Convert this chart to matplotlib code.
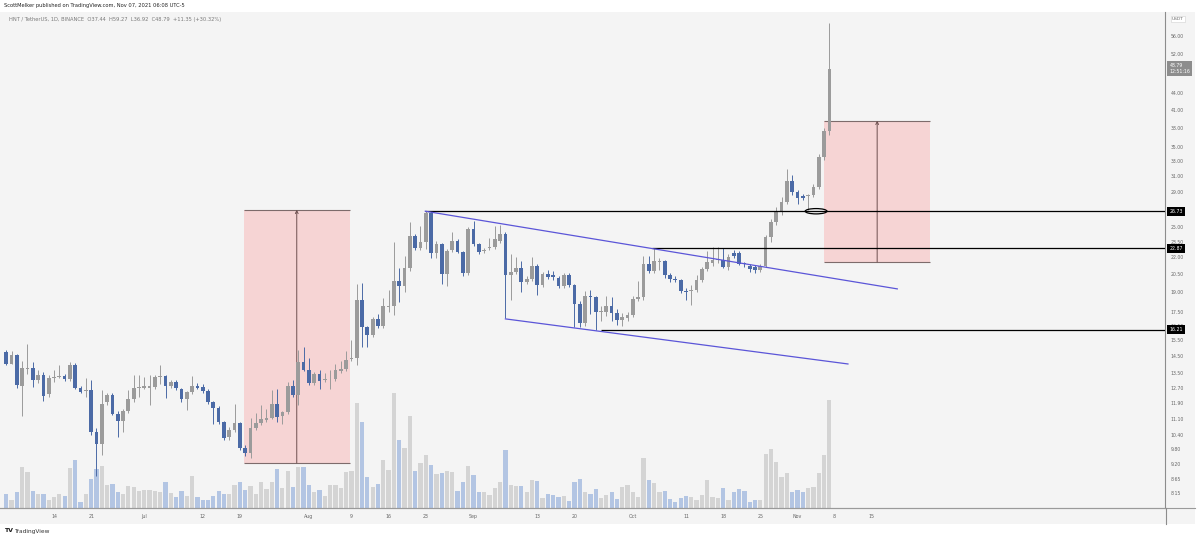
import numpy as np
import pandas as pd
import matplotlib
matplotlib.use("Agg")
import matplotlib.pyplot as plt
import matplotlib.dates as mdates
import matplotlib.transforms as mtrans
from matplotlib.patches import Rectangle, Ellipse
from matplotlib.ticker import NullLocator

# HNT / USDT daily candles, 2021-06-05 .. 2021-11-07
first_day = "2021-06-05"
opens = [14.76, 14.05, 14.60, 12.78, 13.74, 13.79, 13.10, 13.41, 12.34, 13.23,
         13.28, 13.32, 13.14, 13.98, 12.70, 12.50, 12.56, 10.53, 10.03, 11.95,
         12.30, 11.35, 11.03, 11.49, 12.12, 12.67, 12.70, 12.70, 12.74, 13.28,
         13.32, 12.78, 12.98, 12.61, 12.08, 12.44, 12.78, 12.74, 12.52, 11.95,
         11.66, 10.98, 10.31, 10.64, 10.93, 9.86, 9.62, 10.71, 10.93, 11.06,
         11.18, 11.87, 11.27, 11.44, 12.78, 12.30, 14.13, 13.70, 12.95, 13.43,
         13.10, 13.14, 13.14, 13.62, 13.76, 14.30, 14.41, 18.36, 16.37, 15.86,
         16.95, 16.46, 17.88, 17.90, 19.90, 19.50, 21.04, 24.12, 22.90, 23.43,
         26.50, 22.45, 23.24, 20.50, 22.68, 23.56, 22.51, 20.56, 24.76, 23.27,
         22.60, 22.90, 22.94, 23.60, 24.30, 20.41, 20.70, 21.04, 19.84, 20.06,
         21.25, 19.55, 20.50, 20.41, 20.20, 19.50, 20.41, 19.55, 18.10, 16.68,
         18.70, 18.60, 17.47, 17.47, 17.95, 17.43, 16.88, 17.00, 17.25, 18.46,
         18.60, 21.43, 20.79, 21.57, 21.62, 20.41, 20.10, 19.98, 19.10, 19.10,
         19.20, 19.98, 20.96, 21.50, 21.75, 21.74, 21.10, 22.40, 22.40, 21.47,
         21.25, 21.15, 20.86, 21.25, 23.97, 25.56, 26.70, 27.82, 30.39, 29.00,
         28.50, 28.50, 28.65, 29.66, 33.56, 37.44]
highs = [14.90, 14.81, 14.66, 14.20, 15.25, 14.16, 13.66, 13.55, 13.40, 13.70,
         13.96, 13.45, 14.16, 14.10, 12.80, 13.23, 13.10, 10.70, 12.56, 12.42,
         12.40, 11.50, 11.60, 12.56, 13.38, 13.38, 13.27, 13.38, 13.40, 13.96,
         13.40, 13.10, 13.10, 12.70, 12.50, 13.32, 12.95, 12.90, 12.60, 12.00,
         11.75, 11.05, 10.75, 11.84, 11.00, 9.95, 11.16, 11.40, 11.79, 11.60,
         12.56, 12.65, 11.50, 13.00, 13.10, 14.87, 15.10, 14.40, 13.55, 13.70,
         13.50, 13.65, 14.00, 14.20, 14.83, 15.55, 19.70, 19.71, 16.50, 17.10,
         17.30, 18.50, 19.20, 23.50, 21.00, 22.10, 25.50, 24.30, 25.10, 26.73,
         26.73, 23.60, 23.40, 22.80, 24.50, 23.80, 22.60, 25.00, 25.60, 23.40,
         22.90, 23.90, 25.10, 25.20, 24.50, 22.30, 22.00, 21.70, 20.30, 22.00,
         21.40, 20.70, 20.90, 20.80, 20.30, 20.60, 20.60, 19.70, 18.30, 19.10,
         19.20, 18.70, 17.90, 18.70, 18.60, 17.70, 17.40, 17.50, 18.70, 19.90,
         22.10, 22.10, 22.87, 21.90, 21.80, 20.60, 20.30, 20.10, 19.30, 19.60,
         20.40, 21.10, 22.60, 23.00, 23.00, 22.90, 22.30, 22.65, 22.60, 21.60,
         21.40, 21.30, 21.40, 24.20, 25.90, 27.20, 28.40, 31.90, 31.20, 29.20,
         28.70, 28.80, 30.00, 34.00, 38.00, 59.27]
lows = [13.95, 14.00, 12.70, 11.25, 13.47, 12.74, 12.93, 12.00, 12.20, 13.00,
        13.20, 13.05, 13.05, 12.60, 12.40, 12.20, 10.39, 8.73, 9.55, 11.80,
        11.30, 10.31, 10.54, 11.40, 11.95, 12.22, 12.60, 11.79, 12.60, 12.90,
        12.13, 12.70, 12.55, 11.95, 11.54, 12.35, 12.60, 12.40, 11.85, 10.90,
        10.90, 10.20, 10.20, 10.55, 9.75, 9.50, 9.43, 10.60, 10.85, 11.00,
        11.10, 11.00, 10.90, 11.35, 12.20, 11.79, 13.60, 12.85, 12.85, 12.65,
        13.00, 12.65, 13.05, 13.50, 13.60, 14.20, 13.96, 15.08, 15.08, 15.70,
        16.30, 16.30, 17.50, 17.25, 18.20, 19.00, 20.80, 22.70, 22.70, 22.80,
        21.90, 21.90, 19.70, 19.50, 22.50, 22.40, 20.30, 20.40, 23.10, 22.30,
        22.40, 22.70, 22.80, 23.40, 17.00, 18.40, 20.50, 19.00, 19.70, 19.90,
        18.80, 19.40, 20.10, 20.00, 19.35, 19.30, 19.40, 16.40, 16.40, 16.45,
        17.30, 16.18, 16.85, 17.20, 16.85, 16.55, 16.50, 16.80, 17.10, 18.30,
        18.40, 20.60, 20.60, 20.90, 20.20, 19.80, 19.80, 18.90, 18.40, 18.00,
        19.00, 19.80, 20.80, 21.20, 21.50, 21.00, 20.90, 21.90, 21.30, 21.10,
        20.70, 20.60, 20.70, 21.10, 23.50, 25.20, 26.30, 27.50, 28.60, 27.50,
        28.00, 26.86, 28.40, 29.40, 33.20, 36.92]
closes = [14.05, 14.55, 12.83, 13.79, 13.82, 13.10, 13.41, 12.25, 13.23, 13.28,
          13.36, 13.14, 13.98, 12.70, 12.49, 12.54, 10.51, 10.03, 11.87, 12.30,
          11.38, 11.03, 11.49, 12.09, 12.70, 12.74, 12.79, 12.77, 13.28, 13.32,
          12.78, 12.98, 12.66, 12.08, 12.44, 12.78, 12.70, 12.52, 11.95, 11.66,
          10.98, 10.28, 10.64, 10.93, 9.86, 9.65, 10.72, 10.93, 11.10, 11.18,
          11.87, 11.24, 11.44, 12.78, 12.30, 14.13, 13.70, 12.95, 13.43, 13.06,
          13.17, 13.17, 13.66, 13.76, 14.25, 14.36, 18.36, 16.37, 15.86, 16.95,
          16.46, 17.90, 17.95, 19.90, 19.50, 21.04, 24.12, 22.90, 23.43, 26.50,
          22.45, 23.24, 20.50, 22.60, 23.56, 22.51, 20.56, 24.76, 23.27, 22.51,
          22.67, 23.00, 23.77, 24.30, 20.41, 20.70, 21.04, 19.84, 20.06, 21.25,
          19.55, 20.50, 20.27, 20.21, 19.50, 20.41, 19.55, 18.10, 16.68, 18.66,
          18.60, 17.47, 17.55, 17.95, 17.43, 16.88, 17.07, 17.25, 18.46, 18.60,
          21.43, 20.79, 21.63, 21.62, 20.41, 20.04, 19.98, 19.05, 18.98, 19.20,
          19.98, 20.96, 21.60, 21.80, 21.80, 21.10, 22.05, 22.10, 21.43, 21.35,
          20.95, 20.86, 21.25, 23.97, 25.56, 26.73, 27.82, 30.39, 29.00, 28.23,
          28.23, 28.65, 29.66, 33.56, 37.44, 48.79]
volumes = [15, 8.3, 16.7, 44, 39, 18.3, 15, 15, 8.3, 11.7,
           15, 13.3, 42.3, 51, 6.7, 15, 31, 41.7, 45, 24.3,
           26, 17, 15, 23.3, 22.7, 17.7, 19, 19, 17.7, 17,
           27.7, 15.7, 11.7, 17.7, 12.3, 34, 11.7, 9, 9, 13.3,
           18.3, 15, 15, 25, 28.3, 19.7, 24, 15, 27.7, 20,
           27.7, 41.7, 21, 40, 22.3, 44.3, 44.3, 25, 17, 19.3,
           13.3, 24.3, 25, 21.7, 38.3, 39.3, 112.7, 91.7, 33.3, 22.7,
           25.3, 51, 41, 123.3, 72.7, 63.7, 98.3, 40, 47.7, 57,
           45.7, 36, 37, 39.3, 38.3, 17.7, 27.7, 45.3, 35.7, 17,
           16.7, 14.3, 21, 28.3, 61.7, 25, 23.3, 24, 17, 30.3,
           28.7, 11, 15, 14.3, 11.7, 12.7, 7.7, 27.7, 30.7, 17,
           15.3, 20.3, 11, 14.3, 16.7, 9.3, 22.7, 25, 17, 11.7,
           53, 30, 26.7, 16.7, 18.7, 10, 6.7, 10.3, 13.3, 12,
           8.3, 13.7, 30.3, 11.7, 11, 21.7, 8.3, 16.7, 20, 18.3,
           6.7, 8.7, 8.7, 57.7, 63.3, 49.3, 33.3, 37.3, 16.7, 19.3,
           16.7, 21, 22.7, 37.7, 57, 115.3]

price_ticks = [56.00, 52.00, 44.00, 41.00, 38.00, 35.00, 33.00, 31.00, 29.00,
               25.00, 23.50, 22.00, 20.50, 19.00, 17.50, 16.50, 15.50, 14.50,
               13.50, 12.70, 11.90, 11.10, 10.40, 9.80, 9.20, 8.65, 8.15]
time_ticks = ["2021-06-14", "2021-06-21", "2021-07-01", "2021-07-12", "2021-07-19",
              "2021-08-01", "2021-08-09", "2021-08-16", "2021-08-23", "2021-09-01",
              "2021-09-13", "2021-09-20", "2021-10-01", "2021-10-11", "2021-10-18",
              "2021-10-25", "2021-11-01", "2021-11-08", "2021-11-15"]
time_labels = ["14", "21", "Jul", "12", "19", "Aug", "9", "16", "23", "Sep",
               "13", "20", "Oct", "11", "18", "25", "Nov", "8", "15"]

# drawings
level_prices = [26.73, 22.87, 16.21]
level_starts = ["2021-08-22 22:00", "2021-10-04 14:00", "2021-09-24 22:00"]
upper_trend = (["2021-08-22 22:00", "2021-11-19 19:00"], [26.73, 19.26])
lower_trend = (["2021-09-07 00:00", "2021-11-10 12:00"], [16.97, 14.03])
range_boxes = [  # left, right, arrow x, low, high
    ("2021-07-19 18:40", "2021-08-08 17:45", "2021-07-29 17:00", 9.24, 26.9),
    ("2021-11-05 21:30", "2021-11-26 00:00", "2021-11-16 00:00", 21.57, 39.17),
]
ellipse_at = ("2021-11-04 12:00", 26.73)
last_price = 48.79

W, H = 1200, 539
def fx(px):
    return px / W
def fy(py):
    return 1 - py / H

dates = pd.date_range(first_day, periods=len(closes), freq="D")
x = mdates.date2num(dates)
o = np.array(opens); c = np.array(closes)
up = c >= o
body_col = np.where(up, "#9b9b9b", "#4b6aa6")
vol_col = np.where(up, "#d4d4d4", "#b3c5e3")

fig = plt.figure(figsize=(12, 5.39), dpi=100, facecolor="white")
bg = "#f4f4f4"
fig.patches.append(Rectangle((0, fy(524)), fx(1195), fy(11.5) - fy(524),
                             transform=fig.transFigure, fc=bg, ec="none", zorder=-5))

pos = [0, fy(508), fx(1165), fy(12) - fy(508)]
vax = fig.add_axes(pos)
ax = fig.add_axes(pos, sharex=vax)
vax.patch.set_visible(False)
ax.patch.set_visible(False)
vax.set_axis_off()

d0 = mdates.date2num(pd.Timestamp("2021-06-14"))
ax.set_xlim(d0 - 10.17, d0 + 209.2)

# volume
vax.bar(x, volumes, width=0.8, color=vol_col, linewidth=0)
vax.set_ylim(0, max(volumes) * 4.3)

# price
ax.set_yscale("log")
ax.set_ylim(7.64, 61.96)

for left, right, arrow_x, lo, hi in range_boxes:
    l = mdates.date2num(pd.Timestamp(left)); r = mdates.date2num(pd.Timestamp(right))
    ax.add_patch(Rectangle((l, lo), r - l, hi - lo, fc="#f6d4d4", ec="none", zorder=1))
    ax.hlines([lo, hi], l, r, colors="#7d6b6b", lw=0.8, zorder=1.5)
    xa = mdates.date2num(pd.Timestamp(arrow_x))
    ax.annotate("", xy=(xa, hi), xytext=(xa, lo),
                arrowprops=dict(arrowstyle="->", color="#6e4f4f", lw=0.7,
                                mutation_scale=5, shrinkA=0, shrinkB=0), zorder=1.6)

ax.vlines(x, lows, highs, colors=body_col, lw=0.7, zorder=3)
bottoms = np.minimum(o, c)
heights = np.maximum(np.abs(c - o), bottoms * 0.004)
ax.bar(x, heights, bottom=bottoms, width=0.7, color=body_col, linewidth=0, zorder=3)

xend = ax.get_xlim()[1]
for p, s in zip(level_prices, level_starts):
    ax.hlines(p, mdates.date2num(pd.Timestamp(s)), xend, colors="black", lw=0.9, zorder=4)

for dts, ps in (upper_trend, lower_trend):
    ax.plot(mdates.date2num(pd.to_datetime(dts)), ps, color="#5b55d8", lw=0.9, zorder=4)

ax.add_patch(Ellipse((mdates.date2num(pd.Timestamp(ellipse_at[0])), ellipse_at[1]),
                     width=4.1, height=0.6, fill=False, ec="black", lw=0.9, zorder=5))

# axes styling
for side in ("top", "left"):
    ax.spines[side].set_visible(False)
ax.spines["right"].set_color("#8c8c8c")
ax.spines["right"].set_linewidth(0.8)
ax.spines["bottom"].set_color("#9a9a9a")
ax.spines["bottom"].set_linewidth(0.8)

ax.yaxis.tick_right()
ax.yaxis.set_minor_locator(NullLocator())
ax.set_yticks(price_ticks)
ax.set_yticklabels([f"{v:.2f}" for v in price_ticks])
ax.tick_params(axis="y", length=0, pad=4, labelsize=3.3, labelcolor="#666666")

ax.set_xticks(mdates.date2num(pd.to_datetime(time_ticks)))
ax.set_xticklabels(time_labels)
ax.xaxis.set_minor_locator(NullLocator())
ax.tick_params(axis="x", length=0, pad=4.5, labelsize=3.4, labelcolor="#666666")

tr = mtrans.blended_transform_factory(ax.transAxes, ax.transData)
lx = 1 + 4.5 / 1165
for p in level_prices:
    ax.text(lx, p, f"{p:.2f}", transform=tr, fontsize=3.3, color="white", ha="left",
            va="center", clip_on=False, zorder=10,
            bbox=dict(boxstyle="square,pad=0.45", fc="black", ec="none"))
ax.text(lx, last_price, f"{last_price:.2f}\n12:51:16", transform=tr, fontsize=3.3,
        color="white", ha="left", va="center", linespacing=1.3, clip_on=False, zorder=10,
        bbox=dict(boxstyle="square,pad=0.45", fc="#8d8d8d", ec="none"))

# frame lines of the time and price scales
fig.add_artist(plt.Line2D([fx(0), fx(1195)], [fy(508), fy(508)], color="#9a9a9a", lw=0.8))
fig.add_artist(plt.Line2D([fx(1165.5), fx(1165.5)], [fy(508), fy(524)], color="#8c8c8c", lw=0.8))

fig.text(fx(1172), fy(19), "USDT", fontsize=3.2, color="#666666", va="center",
         bbox=dict(boxstyle="square,pad=0.3", fc="white", ec="#d0d0d0", lw=0.4))

fig.text(fx(4), fy(5.5), "ScottMelker published on TradingView.com, Nov 07, 2021 06:08 UTC-5",
         fontsize=3.7, color="#222222", va="center")
fig.text(fx(9), fy(20), "HNT / TetherUS, 1D, BINANCE  O37.44  H59.27  L36.92  C48.79  +11.35 (+30.32%)",
         fontsize=3.7, color="#7a7a7a", va="center")
fig.text(fx(4), fy(531), "TV", fontsize=4.5, fontweight="bold", color="#1a1a1a", va="center")
fig.text(fx(14), fy(531), "TradingView", fontsize=4.2, color="#333333", va="center")

fig.savefig("out.png", dpi=100, facecolor="white")
